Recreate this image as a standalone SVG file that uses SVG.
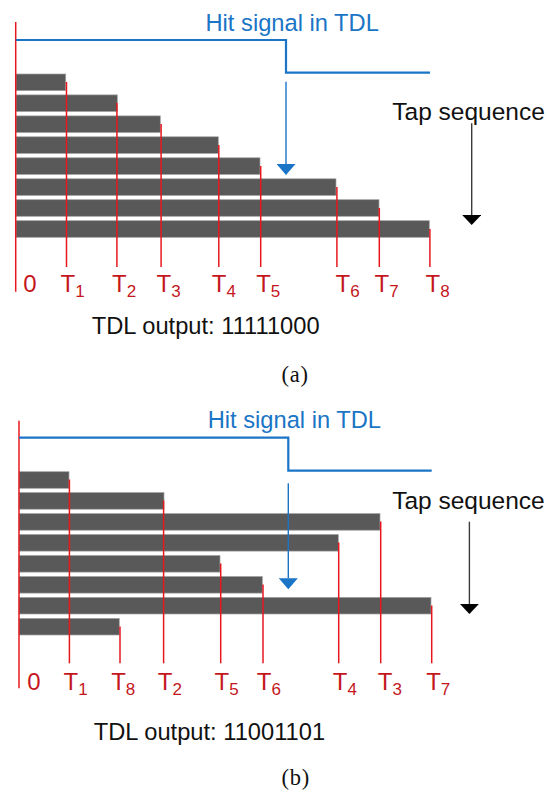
<svg xmlns="http://www.w3.org/2000/svg" width="547" height="794" viewBox="0 0 547 794">
  <style>
    .bar { fill: #595959; stroke: #a0a0a0; stroke-width: 0.7; }
    .tap { stroke: #e8171f; stroke-width: 1.5; fill: none; }
    .hit { stroke: #1a75c6; stroke-width: 2.2; fill: none; }
    .hitdrop { stroke: #1a75c6; stroke-width: 1.4; fill: none; }
    .seq { stroke: #3c3c3c; stroke-width: 1.4; fill: none; }
    .sans { font-family: "Liberation Sans", Arial, sans-serif; }
    .title { font-size: 23.7px; fill: #1a75c6; }
    .note { font-size: 23.7px; fill: #111; }
    .seqlabel { font-size: 24.5px; fill: #111; }
    .tlabel { font-size: 24px; fill: #c4161c; }
    .sub { font-size: 17px; }
    .cap { font-family: "Liberation Serif", "Times New Roman", serif; font-size: 22.5px; fill: #111; letter-spacing: 0.8px; }
  </style>
  <defs>
    <marker id="headBlue" markerUnits="userSpaceOnUse" markerWidth="11" markerHeight="19" viewBox="0 0 11 19" refX="0" refY="9.5" orient="auto">
      <path d="M0,0 L11,9.5 L0,19 Z" fill="#1a75c6"/>
    </marker>
    <marker id="headBlack" markerUnits="userSpaceOnUse" markerWidth="10" markerHeight="19" viewBox="0 0 10 19" refX="0" refY="9.5" orient="auto">
      <path d="M0,0 L10,9.5 L0,19 Z" fill="#000"/>
    </marker>
  </defs>

  <!-- Panel (a): taps in order -->
  <g id="panel-a">
    <g id="a-bars">
      <rect class="bar" x="16" y="74" width="49.7" height="16.6"/>
      <rect class="bar" x="16" y="94.9" width="101.3" height="16.6"/>
      <rect class="bar" x="16" y="115.9" width="144.3" height="16.6"/>
      <rect class="bar" x="16" y="136.8" width="202.3" height="16.6"/>
      <rect class="bar" x="16" y="157.8" width="244" height="16.6"/>
      <rect class="bar" x="16" y="178.8" width="320" height="16.6"/>
      <rect class="bar" x="16" y="199.7" width="363" height="16.6"/>
      <rect class="bar" x="16" y="220.7" width="413.3" height="16.6"/>
    </g>
    <g id="a-taps">
      <line class="tap" x1="15.7" y1="22" x2="15.7" y2="291.7"/>
      <line class="tap" x1="66.5" y1="82" x2="66.5" y2="267"/>
      <line class="tap" x1="116.9" y1="103" x2="116.9" y2="267"/>
      <line class="tap" x1="161.1" y1="124" x2="161.1" y2="267"/>
      <line class="tap" x1="218.8" y1="145" x2="218.8" y2="267"/>
      <line class="tap" x1="260.7" y1="166" x2="260.7" y2="267"/>
      <line class="tap" x1="336.9" y1="187" x2="336.9" y2="267"/>
      <line class="tap" x1="379.3" y1="208" x2="379.3" y2="267"/>
      <line class="tap" x1="429.9" y1="229" x2="429.9" y2="267"/>
    </g>
    <g id="a-connectors">
      <polyline class="hit" points="15.7,40 286,40 286,72.7 430,72.7"/>
      <line class="hitdrop" x1="286" y1="81.7" x2="286" y2="164" marker-end="url(#headBlue)"/>
      <line class="seq" x1="471.7" y1="123.3" x2="471.7" y2="215" marker-end="url(#headBlack)"/>
    </g>
    <g id="a-text" class="sans">
      <text class="title" x="205.5" y="30.7">Hit signal in TDL</text>
      <text class="seqlabel" x="392.3" y="119.5">Tap sequence</text>
      <text class="tlabel" x="23.3" y="292">0</text>
      <text class="tlabel" x="60.5" y="292">T<tspan class="sub" dy="4.5">1</tspan></text>
      <text class="tlabel" x="112" y="292">T<tspan class="sub" dy="4.5">2</tspan></text>
      <text class="tlabel" x="156.5" y="292">T<tspan class="sub" dy="4.5">3</tspan></text>
      <text class="tlabel" x="211.8" y="292">T<tspan class="sub" dy="4.5">4</tspan></text>
      <text class="tlabel" x="256.2" y="292">T<tspan class="sub" dy="4.5">5</tspan></text>
      <text class="tlabel" x="335.5" y="292">T<tspan class="sub" dy="4.5">6</tspan></text>
      <text class="tlabel" x="374.5" y="292">T<tspan class="sub" dy="4.5">7</tspan></text>
      <text class="tlabel" x="425.5" y="292">T<tspan class="sub" dy="4.5">8</tspan></text>
      <text class="note" x="91.8" y="334.3">TDL output: 11111000</text>
    </g>
    <text class="cap" x="281.5" y="381.7">(a)</text>
  </g>

  <!-- Panel (b): taps out of order -->
  <g id="panel-b">
    <g id="b-bars">
      <rect class="bar" x="19" y="471.7" width="50" height="16.6"/>
      <rect class="bar" x="19" y="492.6" width="145" height="16.6"/>
      <rect class="bar" x="19" y="513.6" width="361" height="16.6"/>
      <rect class="bar" x="19" y="534.5" width="319.3" height="16.6"/>
      <rect class="bar" x="19" y="555.5" width="201" height="16.6"/>
      <rect class="bar" x="19" y="576.5" width="243.3" height="16.6"/>
      <rect class="bar" x="19" y="597.4" width="412" height="16.6"/>
      <rect class="bar" x="19" y="618.4" width="100.3" height="16.6"/>
    </g>
    <g id="b-taps">
      <line class="tap" x1="19" y1="420.7" x2="19" y2="688.3"/>
      <line class="tap" x1="69.4" y1="479.5" x2="69.4" y2="663.3"/>
      <line class="tap" x1="163.6" y1="500.5" x2="163.6" y2="663.3"/>
      <line class="tap" x1="380.7" y1="521.5" x2="380.7" y2="663.3"/>
      <line class="tap" x1="338.7" y1="542.5" x2="338.7" y2="663.3"/>
      <line class="tap" x1="220.7" y1="563.5" x2="220.7" y2="663.3"/>
      <line class="tap" x1="263" y1="584.5" x2="263" y2="663.3"/>
      <line class="tap" x1="431.7" y1="605.5" x2="431.7" y2="663.3"/>
      <line class="tap" x1="120" y1="626.5" x2="120" y2="663.3"/>
    </g>
    <g id="b-connectors">
      <polyline class="hit" points="19,437.7 288.3,437.7 288.3,470.7 431.7,470.7"/>
      <line class="hitdrop" x1="288.3" y1="483.3" x2="288.3" y2="578.3" marker-end="url(#headBlue)"/>
      <line class="seq" x1="469.4" y1="521.7" x2="469.4" y2="604" marker-end="url(#headBlack)"/>
    </g>
    <g id="b-text" class="sans">
      <text class="title" x="207.7" y="428.3">Hit signal in TDL</text>
      <text class="seqlabel" x="392.2" y="509">Tap sequence</text>
      <text class="tlabel" x="27.3" y="690">0</text>
      <text class="tlabel" x="63.5" y="690">T<tspan class="sub" dy="4.5">1</tspan></text>
      <text class="tlabel" x="111.2" y="690">T<tspan class="sub" dy="4.5">8</tspan></text>
      <text class="tlabel" x="157.8" y="690">T<tspan class="sub" dy="4.5">2</tspan></text>
      <text class="tlabel" x="214.5" y="690">T<tspan class="sub" dy="4.5">5</tspan></text>
      <text class="tlabel" x="256.8" y="690">T<tspan class="sub" dy="4.5">6</tspan></text>
      <text class="tlabel" x="332.8" y="690">T<tspan class="sub" dy="4.5">4</tspan></text>
      <text class="tlabel" x="377.8" y="690">T<tspan class="sub" dy="4.5">3</tspan></text>
      <text class="tlabel" x="426.2" y="690">T<tspan class="sub" dy="4.5">7</tspan></text>
      <text class="note" x="93.8" y="740">TDL output: 11001101</text>
    </g>
    <text class="cap" x="281.5" y="784.5">(b)</text>
  </g>
</svg>
